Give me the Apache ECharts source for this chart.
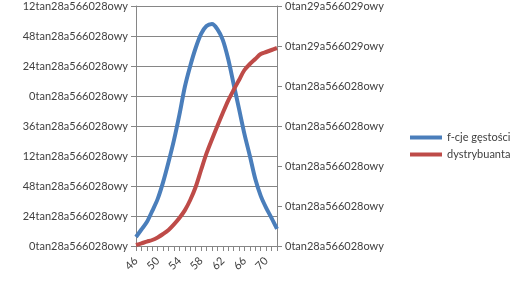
<!DOCTYPE html>
<html><head><meta charset="utf-8">
<script src="https://cdn.jsdelivr.net/npm/echarts@6/dist/echarts.min.js"></script>
<style>html,body{margin:0;padding:0;background:#fff}#c{width:526px;height:288px}</style>
</head><body><div id="c"></div>
<script>
var categories = [46,47,48,49,50,51,52,53,54,55,56,57,58,59,60,61,62,63,64,65,66,67,68,69,70,71,72];
var densityValues = [0.0030,0.0055,0.0080,0.0117,0.0157,0.0213,0.0280,0.0353,0.0437,0.0530,0.0600,0.0660,0.0707,0.0733,0.0740,0.0723,0.0687,0.0623,0.0540,0.0457,0.0373,0.0300,0.0223,0.0167,0.0127,0.0093,0.0057];
var cdfValues = [0.005,0.013,0.022,0.030,0.043,0.060,0.080,0.108,0.140,0.178,0.230,0.295,0.380,0.463,0.533,0.600,0.665,0.727,0.780,0.830,0.880,0.910,0.935,0.960,0.970,0.980,0.990];
var leftTickLabels = ["0tan28a566028owy","24tan28a566028owy","48tan28a566028owy","12tan28a566028owy","36tan28a566028owy","0tan28a566028owy","24tan28a566028owy","48tan28a566028owy","12tan28a566028owy"];
var rightTickLabels = ["0tan28a566028owy","0tan28a566028owy","0tan28a566028owy","0tan28a566028owy","0tan28a566028owy","0tan29a566029owy","0tan29a566029owy"];
var seriesNames = ["f-cje gęstości","dystrybuanta"];

var chart = echarts.init(document.getElementById('c'));
var axisColor = '#868686';
var txt = {color:'#404040', fontFamily:'Lato', fontSize:11};
chart.setOption({
  animation:false,
  grid:{left:136, right:249, top:6, bottom:42, containLabel:false},
  legend:{
    orient:'vertical', left:405, top:127, itemGap:6,
    itemWidth:32, itemHeight:4, icon:'rect',
    textStyle:Object.assign({}, txt, {fontSize:11}),
    data:seriesNames
  },
  xAxis:{
    type:'category', data:categories, boundaryGap:false,
    axisLine:{lineStyle:{color:axisColor}},
    axisTick:{interval:0, length:5, lineStyle:{color:axisColor}},
    axisLabel:Object.assign({interval:3, rotate:45, margin:13}, txt),
    splitLine:{show:false}
  },
  yAxis:[{
    type:'value', min:0, max:0.08, interval:0.01,
    axisLine:{show:true, lineStyle:{color:axisColor}},
    axisTick:{show:true, length:5, lineStyle:{color:axisColor}},
    axisLabel:Object.assign({margin:8, formatter:function(v){return leftTickLabels[Math.round(v*100)];}}, txt),
    splitLine:{show:true, lineStyle:{color:axisColor, width:1}}
  },{
    type:'value', min:0, max:1.2, interval:0.2, position:'right',
    axisLine:{show:true, lineStyle:{color:axisColor}},
    axisTick:{show:true, length:5, lineStyle:{color:axisColor}},
    axisLabel:Object.assign({margin:8, formatter:function(v){return rightTickLabels[Math.round(v*5)];}}, txt),
    splitLine:{show:false}
  }],
  series:[{
    name:seriesNames[0], type:'line', yAxisIndex:0, data:densityValues,
    smooth:0.3, showSymbol:false, lineStyle:{color:'#4a7ebb', width:4}, itemStyle:{color:'#4a7ebb'}
  },{
    name:seriesNames[1], type:'line', yAxisIndex:1, data:cdfValues,
    smooth:0.3, showSymbol:false, lineStyle:{color:'#be4b48', width:4}, itemStyle:{color:'#be4b48'}
  }]
});
</script></body></html>
